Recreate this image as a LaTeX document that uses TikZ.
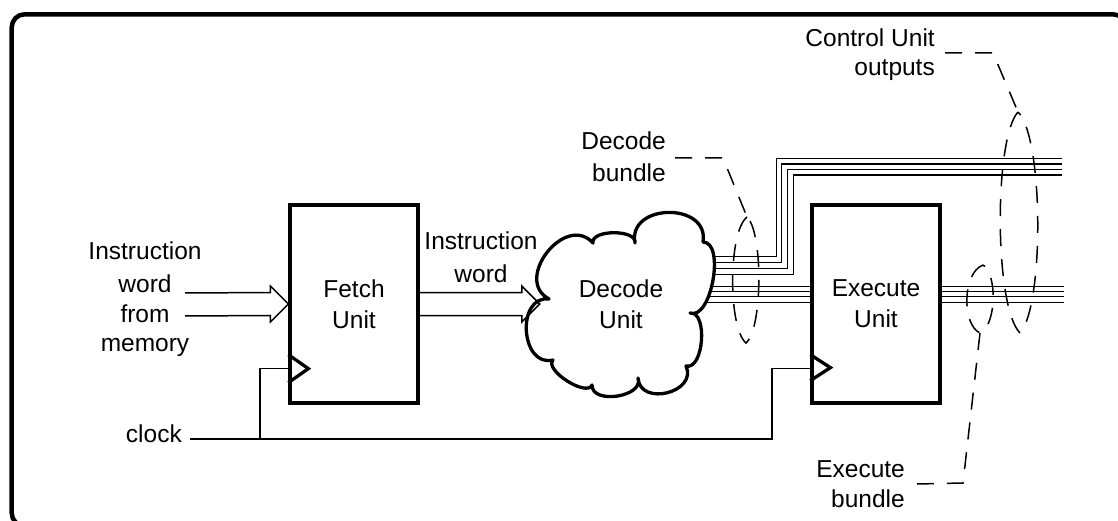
\documentclass[tikz,border=0pt]{standalone}
\usepackage{fontspec}
\setmainfont{Liberation Sans}
\usetikzlibrary{calc}
\pgfdeclarelayer{wires}
\pgfsetlayers{wires,main}
\begin{document}
\begin{tikzpicture}[x=1pt,y=1pt,
  lbl/.style={font=\fontsize{24.5}{31}\selectfont, inner sep=0pt},
  unitbox/.style={draw, line width=3.3pt, minimum width=128pt, minimum height=198pt,
    align=center, font=\fontsize{24.5}{31}\selectfont, inner sep=0pt},
  wire/.style={line width=1.5pt},
  boxline/.style={line width=3.3pt, line join=miter},
  cloudline/.style={line width=3.3pt, line join=round},
  callout/.style={line width=1.5pt, dash pattern=on 17pt off 13pt},
  puff/.style={bend left=100, looseness=#1},
  busarrow/.style={to path={
    ($(\tikztostart)+(0,11.5)$) -- ($(\tikztotarget)+(-18,11.5)$)
    -- ($(\tikztotarget)+(-18,18)$) -- (\tikztotarget)
    -- ($(\tikztotarget)+(-18,-18)$) -- ($(\tikztotarget)+(-18,-11.5)$)
    -- ($(\tikztostart)+(0,-11.5)$)}}]

\useasboundingbox (0,0) rectangle (1118,-521);
\clip (0,0) rectangle (1118,-521);

% outer frame
\draw[line width=4.5pt, rounded corners=13pt] (11.7,-14.3) rectangle (1126,-526);

% functional units
\node[unitbox] (fetch) at (354,-304) {Fetch\\Unit};
\node[unitbox] (execute) at (876,-304) {Execute\\Unit};

% decode cloud
\draw[cloudline, fill=white] (549,-299)
  to[puff=1.48] (593,-243)
  to[puff=0.85] (635,-243)
  to[puff=1.53] (703,-242)
  to[puff=0.8]  (690,-313)
  to[puff=0.88] (686,-366)
  to[puff=1.5]  (638,-378)
  to[puff=1.1]  (592,-385)
  to[puff=0.75] (553,-360)
  to[puff=1.4]  (549,-299) -- cycle;
\node[lbl, align=center, minimum width=162pt, minimum height=150pt] (decode) at (621,-304) {Decode\\Unit};

% clock inputs
\draw[boxline] ($(fetch.south west)+(0,50)$) -- ++(20,-14) -- ++(-20,-14);
\draw[boxline] ($(execute.south west)+(0,50)$) -- ++(20,-13) -- ++(-20,-13);

% labels
\node[lbl, anchor=base] (in1) at (145,-259) {Instruction};
\node[lbl, anchor=base] (in2) at (145,-292) {word};
\node[lbl, anchor=base] (in3) at (145,-322) {from};
\node[lbl, anchor=base] (in4) at (145,-351) {memory};
\node[lbl, anchor=base east] (clklbl) at (182,-442) {clock};
\node[lbl, anchor=base] (iw1) at (481,-250) {Instruction};
\node[lbl, anchor=base] (iw2) at (481,-282) {word};
\node[lbl, anchor=base east] (db1) at (666,-150) {Decode};
\node[lbl, anchor=base east] (db2) at (666,-182) {bundle};
\node[lbl, anchor=base east] (cu1) at (935,-47) {Control Unit};
\node[lbl, anchor=base east] (cu2) at (935,-76) {outputs};
\node[lbl, anchor=base east] (eb1) at (905,-477) {Execute};
\node[lbl, anchor=base east] (eb2) at (905,-507) {bundle};

% instruction word buses
\coordinate (memin) at (185,-304.5);
\draw[wire, line join=miter] (memin) to[busarrow] (fetch.west);
\draw[wire, line join=miter] (fetch.east) to[busarrow] (decode.west);

% clock distribution
\coordinate (clk) at (190,-439);
\coordinate (tapF) at (260,-439);
\coordinate (tapE) at (772,-439);
\draw[wire] (clk) -- (tapE) |- ($(execute.south west)+(0,36)$);
\draw[wire] (tapF) |- ($(fetch.south west)+(0,36)$);

% decode bundle wires (behind the cloud)
\begin{pgfonlayer}{wires}
\foreach \dy/\vx/\ty in {47.3/776.7/158.3, 41.7/781.7/164, 35.7/787.3/169.3, 29.7/793.3/175} {
  \draw[wire] ($(decode.east)+(-12,\dy)$) -| (\vx,-\ty) -- (1062,-\ty);
}
\foreach \dy in {17.3, 12.3, 7.3, 1.3} {
  \draw[wire] ($(decode.east)+(-12,\dy)$) -- ($(execute.west)+(0,\dy)$);
  \draw[wire] ($(execute.east)+(0,\dy)$) -- ($(execute.east)+(122,\dy)$);
}
\end{pgfonlayer}

% bundle callouts
\draw[callout] ($(db1.base east)+(9,-8)$) -- (723,-158) -- (747,-217);
\draw[callout] (747,-217) .. controls (728,-232) and (728,-328) .. (746,-343)
  .. controls (763,-328) and (763,-232) .. (747,-217);

\draw[callout] ($(cu2.base east)+(10,23)$) -- (993,-53) -- (1018,-112);
\draw[callout] (1018,-112) .. controls (994,-138) and (994,-307) .. (1020,-333)
  .. controls (1044,-307) and (1044,-138) .. (1018,-112);

\draw[callout] (983,-265) .. controls (962,-273) and (962,-325) .. (980,-333)
  .. controls (997,-325) and (997,-273) .. (983,-265);
\draw[callout] (980,-333) -- (963,-483) -- ($(eb1.base east)+(12,-7)$);
\end{tikzpicture}
\end{document}
